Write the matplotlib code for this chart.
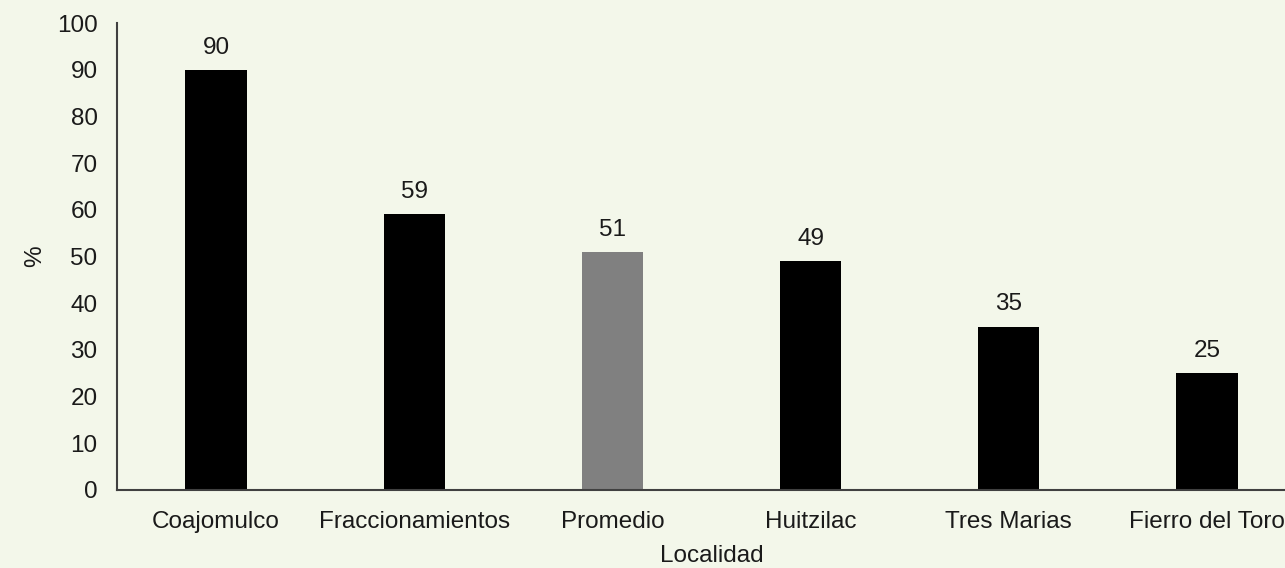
import matplotlib
matplotlib.use("Agg")
import matplotlib.pyplot as plt

categories = ["Coajomulco", "Fraccionamientos", "Promedio", "Huitzilac", "Tres Marias", "Fierro del Toro"]
values = [90, 59, 51, 49, 35, 25]
colors = ["#000000", "#000000", "#808080", "#000000", "#000000", "#000000"]
yticks = [0, 10, 20, 30, 40, 50, 60, 70, 80, 90, 100]

plt.rcParams['font.family'] = ['Liberation Sans', 'DejaVu Sans']
bg = "#f3f7ea"
fs = 17.5
fig = plt.figure(figsize=(12.85, 5.68), dpi=100, facecolor=bg)
ax = fig.add_axes([117/1285, 1-490/568, (1306-117)/1285, (490-23)/568], facecolor=bg)

x = list(range(len(categories)))
bars = ax.bar(x, values, width=0.31, color=colors)
for xi, v in zip(x, values):
    ax.annotate(str(v), (xi, v), xytext=(0, 8), textcoords="offset points",
                ha="center", va="bottom", fontsize=fs, color="#1a1a1a")

ax.set_xlim(-0.5, len(categories) - 0.5)
ax.set_ylim(0, 100)
ax.set_yticks(yticks)
ax.set_xticks(x)
ax.set_xticklabels(categories)
ax.tick_params(axis='both', length=0, labelsize=fs, labelcolor="#1a1a1a")
ax.tick_params(axis='x', pad=15)
ax.tick_params(axis='y', pad=14)
for s in ["top", "right"]:
    ax.spines[s].set_visible(False)
for s in ["left", "bottom"]:
    ax.spines[s].set_color("#404040")
    ax.spines[s].set_linewidth(1.5)
ax.set_xlabel("Localidad", fontsize=fs, color="#1a1a1a", labelpad=9)
ax.set_ylabel("%", fontsize=fs, color="#1a1a1a", labelpad=8)

fig.savefig("out.png", dpi=100, facecolor=bg)
